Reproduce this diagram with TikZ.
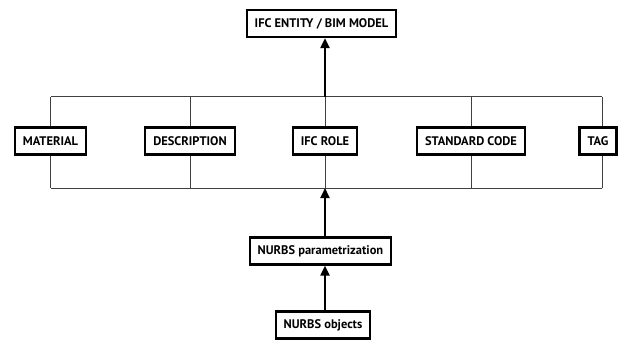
\documentclass[tikz,border=0pt]{standalone}
\usepackage{fontspec}
\setmainfont{PT Sans}
\usetikzlibrary{arrows.meta}

\begin{document}
\begin{tikzpicture}[x=1bp, y=-1bp,
    box/.style={draw=black, line width=2.2bp, fill=white, inner xsep=8bp, minimum height=27bp, font=\fontsize{12.5}{14}\selectfont\bfseries},
    link/.style={draw=black!75, line width=0.9bp},
    flow/.style={draw=black, line width=2bp, ->, >={Triangle[length=10bp,width=9bp]}}]
      \useasboundingbox (0,0) rectangle (619,341);

      \node[box] at (321.5,23.5) (ifc_entity) {IFC ENTITY / BIM MODEL};

      \node[box] at (50.5,141) (material) {MATERIAL};
      \node[box] at (190,141) (description) {DESCRIPTION};
      \node[box] at (325,141) (ifc_role) {IFC ROLE};
      \node[box] at (471,141) (std_code) {STANDARD CODE};
      \node[box] at (598,141) (tag) {TAG};

      \node[box] at (320.5,251) (nurbs_param) {NURBS parametrization};
      \node[box] at (323,325) (nurbs_obj) {NURBS objects};

      % --------------------------------------------------------------------------
      \coordinate (top_l) at (51,96.5);
      \coordinate (top_r) at (602,96.5);
      \coordinate (bot_l) at (51,188);
      \coordinate (bot_r) at (602,188);

      \draw[link] (top_l) -- (top_r);
      \draw[link] (bot_l) -- (bot_r);

      \draw[link] (material.north) -- (material.north |- top_l);
      \draw[link] (material.south) -- (material.south |- bot_l);
      \draw[link] (description.north) -- (description.north |- top_l);
      \draw[link] (description.south) -- (description.south |- bot_l);
      \draw[link] (ifc_role.north) -- (ifc_role.north |- top_l);
      \draw[link] (ifc_role.south) -- (ifc_role.south |- bot_l);
      \draw[link] (std_code.north) -- (std_code.north |- top_l);
      \draw[link] (std_code.south) -- (std_code.south |- bot_l);
      \draw[link] (top_r) -- (top_r |- tag.north);
      \draw[link] (bot_r) -- (bot_r |- tag.south);

      % --------------------------------------------------------------------------
      \draw[flow] (ifc_role.north |- top_l) -- (ifc_role.north |- ifc_entity.south);
      \draw[flow] (ifc_role.south |- nurbs_param.north) -- (ifc_role.south |- bot_l);
      \draw[flow] (ifc_role.south |- nurbs_obj.north) -- (ifc_role.south |- nurbs_param.south);
    \end{tikzpicture}
\end{document}
